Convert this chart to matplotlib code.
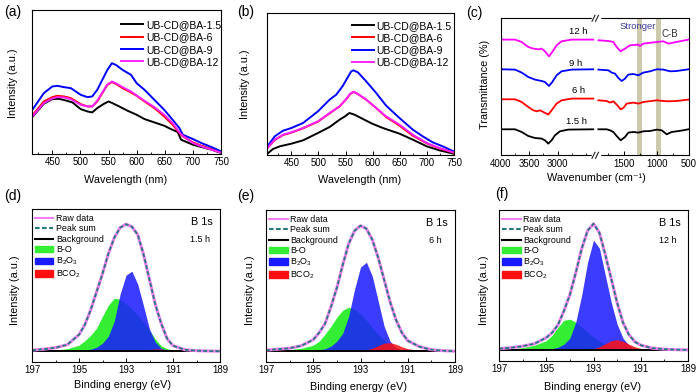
import numpy as np
import matplotlib
matplotlib.use('Agg')
import matplotlib.pyplot as plt
from matplotlib.ticker import MultipleLocator
from matplotlib.lines import Line2D
from matplotlib.patches import Patch, Rectangle

plt.rcParams['font.family'] = ['Liberation Sans', 'DejaVu Sans']
plt.rcParams['mathtext.fontset'] = 'custom'
plt.rcParams['mathtext.rm'] = 'Liberation Sans'
plt.rcParams['mathtext.it'] = 'Liberation Sans:italic'

W, H = 700, 392

# ---------------- (a) PL spectra ----------------
pl_labels = ['UB-CD@BA-1.5', 'UB-CD@BA-6', 'UB-CD@BA-9', 'UB-CD@BA-12']
pl_colors = ['#000000', '#ff0000', '#0000ff', '#ff22ff']

a_15_x = [415.5, 435, 450, 462, 474, 486, 500.6, 512.5, 521, 530, 542, 550, 557, 569, 584, 600, 614,
          631.5, 649, 661, 673, 679, 700, 715, 733, 750]
a_15_y = [113, 151, 165, 166, 161, 155, 135, 128, 125, 138, 151, 158, 153, 143, 130, 118, 105,
          95, 85, 75, 66, 43, 28, 21, 13, 3]
a_6_x = [415.5, 435, 450, 459, 471, 483, 500.6, 512.5, 521, 530, 539, 548, 556, 563, 575, 590, 600,
         614, 631.5, 649, 664, 676, 682, 700, 715, 733, 750]
a_6_y = [118, 158, 171, 175, 173, 168, 150, 143, 143, 158, 183, 208, 216, 211, 198, 185, 175,
         158, 138, 113, 88, 63, 53, 35, 25, 15, 5]
a_12_y = [115, 153, 167, 171, 170, 165, 148, 143, 143, 160, 185, 209, 218, 213, 201, 188, 176,
          160, 141, 118, 93, 65, 55, 33, 23, 13, 4]
a_9_y = [135, 183, 203, 205, 201, 198, 178, 171, 173, 193, 223, 253, 273, 268, 253, 238, 213,
         193, 163, 133, 103, 78, 58, 45, 33, 21, 8]

# ---------------- (b) PL spectra ----------------
b_15_x = [405.8, 416, 428.5, 450, 471.5, 499, 520.5, 539, 549, 557, 566.5, 582, 599, 618.7, 649.4,
          674, 699.7, 723, 748.8]
b_15_y = [4, 18, 26, 34, 44, 66, 84, 106, 116, 126, 121, 108, 94, 81, 64, 46, 26, 14, 4]
b_mid_x = [405.8, 419.3, 434.7, 450, 471.5, 499, 520.5, 539, 551, 558.6, 564.7, 572.7, 588, 606.4,
           624.8, 649.4, 674, 699.7, 723, 748.8]
b_6_y = [21, 45, 60, 67, 80, 100, 125, 146, 167, 183, 189, 183, 166, 141, 114, 88, 58, 35, 20, 7]
b_12_y = [21, 46, 61, 68, 81, 101, 126, 146, 168, 184, 190, 183, 166, 141, 116, 91, 61, 36, 21, 8]
b_9_x = [405.8, 419.3, 434.7, 450, 471.5, 499, 520.5, 532.8, 545.1, 554.3, 560.4, 564.7, 572.7, 588,
         606.4, 624.8, 649.4, 674, 692.3, 710.7, 729.1, 748.8]
b_9_y = [26, 56, 73, 81, 96, 131, 166, 181, 208, 234, 251, 254, 248, 221, 186, 148, 111, 76, 56,
         38, 26, 11]

# ---------------- (c) FTIR, broken axis ----------------
ir_tags = ['1.5 h', '6 h', '9 h', '12 h']
ir_colors = ['#000000', '#ff0000', '#0000ff', '#ff00ff']
ir_hi_15_x = [3988, 3753, 3635, 3518, 3400, 3283, 3224, 3165, 3106, 3047, 2959, 2812, 2371]
ir_hi_15_y = [26.0, 26.0, 23.3, 19.3, 17.3, 16.7, 15.0, 11.7, 15.0, 20.0, 24.0, 25.7, 26.0]
ir_hi_6_x = [3988, 3753, 3635, 3518, 3430, 3371, 3312, 3253, 3165, 3106, 3018, 2930, 2753, 2371]
ir_hi_6_y = [56.0, 56.0, 53.3, 48.3, 45.0, 44.0, 45.0, 43.3, 40.7, 45.0, 51.7, 55.0, 56.7, 56.7]
ir_hi_9_x = [3988, 3753, 3635, 3518, 3400, 3283, 3224, 3153, 3094, 3018, 2930, 2753, 2371]
ir_hi_9_y = [86.0, 85.7, 82.7, 78.3, 75.7, 74.3, 73.3, 69.3, 73.3, 80.0, 84.0, 85.7, 86.0]
ir_hi_12_x = [3988, 3753, 3635, 3518, 3430, 3341, 3283, 3224, 3153, 3094, 3018, 2930, 2753, 2371]
ir_hi_12_y = [115.7, 115.7, 113.3, 108.3, 106.7, 106.0, 106.7, 104.0, 99.0, 103.3, 110.0, 114.0,
              115.7, 115.7]

ir_lo_15_x = [1898, 1770, 1718, 1667, 1616, 1554, 1487, 1436, 1358, 1281, 1204, 1101, 998, 921, 844,
              767, 690, 587, 510]
ir_lo_15_y = [26.0, 26.0, 25.0, 23.3, 19.3, 15.0, 18.3, 22.7, 23.3, 22.7, 24.0, 24.3, 25.7, 25.0,
              21.0, 23.3, 24.0, 25.0, 26.0]
ir_lo_6_x = [1898, 1770, 1718, 1667, 1616, 1554, 1513, 1461, 1358, 1281, 1204, 998, 896, 818, 690, 510]
ir_lo_6_y = [55.0, 54.3, 52.7, 54.0, 50.7, 46.0, 47.3, 51.7, 52.7, 51.7, 53.3, 55.0, 54.3, 54.0,
             54.3, 55.7]
ir_lo_9_x = [1898, 1744, 1693, 1641, 1590, 1538, 1487, 1436, 1358, 1281, 1204, 1101, 998, 896, 793,
             690, 510]
ir_lo_9_y = [85.7, 85.0, 82.7, 81.7, 77.3, 74.3, 76.7, 80.7, 81.3, 80.0, 82.7, 84.0, 86.0, 85.7,
             84.0, 84.3, 86.0]
ir_lo_12_x = [1898, 1744, 1667, 1616, 1554, 1487, 1410, 1281, 1256, 1204, 998, 896, 818, 741, 510]
ir_lo_12_y = [115.0, 114.3, 113.3, 108.3, 104.0, 106.7, 110.0, 110.7, 109.3, 111.7, 113.3, 114.0,
              111.7, 112.7, 115.7]
ir_tag_x = [2665, 2636, 2682, 2642]
ir_tag_y = [34, 65, 91.7, 124]
ir_bands = [(1230, 1307), (937, 1014)]

# ---------------- (d)-(f) XPS B 1s ----------------
be_grid = [197, 196.5, 196, 195.5, 195, 194.75, 194.5, 194.25, 194, 193.75, 193.5, 193.25, 193,
           192.75, 192.5, 192.25, 192, 191.75, 191.5, 191.25, 191, 190.5, 190, 189.5, 189]
xps_bg = 10.5
xps_tags = ['1.5 h', '6 h', '12 h']

d_env = [11.5, 12.5, 14, 17, 27, 37, 52, 70, 88, 108, 124, 134, 137.5, 135, 127, 107, 82, 57, 38,
         23, 16, 12, 11, 10.7, 10.5]
d_bo = [0.3, 0.6, 1.2, 2.5, 6, 10.5, 16, 23, 35, 46, 53, 52, 47.5, 42, 36, 29, 21, 12, 5.5, 2.5,
        1, 0.3, 0.1, 0, 0]
d_b2o3 = [0, 0, 0, 0.2, 0.5, 1, 2, 4, 8, 15, 30, 57, 76, 80, 67, 45, 22, 9, 3, 1, 0.3, 0, 0, 0, 0]
d_bco2 = [0, 0, 0, 0, 0, 0, 0, 0, 0, 0, 0, 0, 0, 0, 0.3, 0.8, 1.6, 2.3, 2.2, 1.5, 0.8, 0.2, 0, 0, 0]

e_env = [11.5, 12.5, 13.5, 16, 22, 29, 38, 55, 74, 97, 118, 131, 136, 133, 122, 104, 82, 60, 42,
         29, 21, 15, 12, 11, 10.5]
e_bo = [0.3, 0.8, 1.5, 3, 6, 10, 17, 25, 34, 41, 44, 42, 37, 31, 24, 17, 11, 6, 3, 1.2, 0.5, 0.1,
        0, 0, 0]
e_b2o3 = [0, 0, 0, 0.2, 0.6, 1.2, 2.5, 5, 10, 18, 35, 62, 84, 89, 75, 50, 25, 10, 3.5, 1, 0.3, 0,
          0, 0, 0]
e_bco2 = [0, 0, 0, 0, 0, 0, 0, 0, 0, 0, 0, 0, 0.5, 1.5, 3, 5.5, 8, 8.5, 7, 4.5, 2.5, 0.7, 0.2, 0, 0]

f_env = [12, 13, 14.5, 17, 23, 28, 36, 50, 66, 88, 112, 130, 137, 128, 106, 82, 58, 38, 26, 19,
         15.5, 12.5, 11.5, 11, 10.8]
f_bo = [0.5, 1.3, 2.5, 5, 9.5, 15, 23, 30, 31, 28, 23, 18, 13, 9, 6, 3.5, 2, 1, 0.5, 0.2, 0, 0, 0,
        0, 0]
f_b2o3 = [0, 0, 0, 0.3, 0.8, 1.5, 3, 6, 12, 28, 55, 88, 110, 102, 75, 48, 26, 12, 5, 1.8, 0.6, 0,
          0, 0, 0]
f_bco2 = [0, 0, 0, 0, 0, 0, 0, 0, 0, 0, 0, 0.5, 1.5, 3.5, 6.5, 9.5, 10.5, 9, 6, 3.5, 1.8, 0.5, 0.1,
          0, 0]

c_raw = '#f47ff4'
c_sum = '#237a7a'
c_green = '#33ee33'
c_blue = '#1a1aff'
c_red = '#ff1010'


def add_ax(fig, x0, y0, x1, y1):
    # axes rectangle given in pixel coords of the 700x392 canvas
    return fig.add_axes([x0 / W, 1 - y1 / H, (x1 - x0) / W, (y1 - y0) / H])


def ftext(fig, x, y, s, **kw):
    fig.text(x / W, 1 - y / H, s, ha='center', va='center', **kw)


def style(ax):
    for sp in ax.spines.values():
        sp.set_linewidth(0.8)
    ax.tick_params(axis='x', which='both', direction='in', labelsize=6.9, pad=2.5, top=False)
    ax.tick_params(axis='x', which='major', length=3, width=0.7)
    ax.tick_params(axis='x', which='minor', length=1.8, width=0.6)
    ax.set_yticks([])


fig = plt.figure(figsize=(7, 3.92), dpi=100)

# (a)
ax = add_ax(fig, 32, 10, 221, 154)
ax.plot(a_15_x, a_15_y, color=pl_colors[0], lw=1.4, label=pl_labels[0])
ax.plot(a_6_x, a_6_y, color=pl_colors[1], lw=1.4, label=pl_labels[1])
ax.plot(a_6_x, a_9_y, color=pl_colors[2], lw=1.4, label=pl_labels[2])
ax.plot(a_6_x, a_12_y, color=pl_colors[3], lw=1.4, label=pl_labels[3])
ax.set_xlim(414, 750)
ax.set_ylim(0, 433)
ax.xaxis.set_major_locator(MultipleLocator(50))
ax.xaxis.set_minor_locator(MultipleLocator(25))
style(ax)
ax.legend(loc='upper right', bbox_to_anchor=(1.0, 0.93), frameon=False, fontsize=7.5,
          handlelength=2.1, handletextpad=0.25, labelspacing=0.22, borderpad=0, borderaxespad=0)

# (b)
ax = add_ax(fig, 267, 13, 454, 155)
ax.plot(b_15_x, b_15_y, color=pl_colors[0], lw=1.4, label=pl_labels[0])
ax.plot(b_mid_x, b_6_y, color=pl_colors[1], lw=1.4, label=pl_labels[1])
ax.plot(b_9_x, b_9_y, color=pl_colors[2], lw=1.4, label=pl_labels[2])
ax.plot(b_mid_x, b_12_y, color=pl_colors[3], lw=1.4, label=pl_labels[3])
ax.set_xlim(405, 750)
ax.set_ylim(0, 426)
ax.xaxis.set_major_locator(MultipleLocator(50))
ax.xaxis.set_minor_locator(MultipleLocator(25))
style(ax)
ax.legend(loc='upper right', bbox_to_anchor=(0.988, 0.946), frameon=False, fontsize=7.5,
          handlelength=2.1, handletextpad=0.25, labelspacing=0.22, borderpad=0, borderaxespad=0)

# (c) broken wavenumber axis
axL = add_ax(fig, 501, 18.3, 595, 155.3)
axR = add_ax(fig, 595, 18.3, 689, 155.3)
hi = [(ir_hi_15_x, ir_hi_15_y), (ir_hi_6_x, ir_hi_6_y), (ir_hi_9_x, ir_hi_9_y), (ir_hi_12_x, ir_hi_12_y)]
lo = [(ir_lo_15_x, ir_lo_15_y), (ir_lo_6_x, ir_lo_6_y), (ir_lo_9_x, ir_lo_9_y), (ir_lo_12_x, ir_lo_12_y)]
for i in range(4):
    axL.plot(hi[i][0], hi[i][1], color=ir_colors[i], lw=1.3)
    axR.plot(lo[i][0], lo[i][1], color=ir_colors[i], lw=1.3)
    axL.text(ir_tag_x[i], ir_tag_y[i], ir_tags[i], ha='center', va='center', fontsize=6.8)
for b0, b1 in ir_bands:
    axR.axvspan(b0, b1, color='#cdc9ad', lw=0, zorder=0)
axR.text(1297, 128.5, 'Stronger', color='#3c3c9c', ha='center', va='center', fontsize=6.8)
axR.text(793, 121, 'C-B', color='#333333', ha='center', va='center', fontsize=7)
axL.set_xlim(4000, 2340)
axR.set_xlim(1950, 500)
for a in (axL, axR):
    a.set_ylim(0, 137)
    style(a)
    a.xaxis.set_minor_locator(MultipleLocator(250))
axL.set_xticks([4000, 3500, 3000])
axR.set_xticks([1500, 1000, 500])
axL.spines['right'].set_visible(False)
axR.spines['left'].set_visible(False)
for yb in (18.3, 155.3):
    fig.patches.append(Rectangle((591.5 / W, 1 - (yb + 2.5) / H), 8 / W, 5 / H,
                                 transform=fig.transFigure, color='white', zorder=5))
    for x0 in (592, 595.5):
        fig.lines.append(Line2D([x0 / W, (x0 + 3) / W], [1 - (yb + 3) / H, 1 - (yb - 3) / H],
                                transform=fig.transFigure, color='#222222', lw=0.8, zorder=6))

# (d)-(f) XPS
xps_sets = [(d_env, d_bo, d_b2o3, d_bco2), (e_env, e_bo, e_b2o3, e_bco2), (f_env, f_bo, f_b2o3, f_bco2)]
xps_boxes = [(32, 209, 220, 361.7), (266, 210, 455, 361.7), (499, 210, 688, 360.7)]
be = np.array(be_grid)
for k in range(3):
    env, bo, b2o3, bco2 = xps_sets[k]
    x0, y0, x1, y1 = xps_boxes[k]
    ax = add_ax(fig, x0, y0, x1, y1)
    ax.fill_between(be, xps_bg, xps_bg + np.array(bo), color=c_green, lw=0)
    ax.fill_between(be, xps_bg, xps_bg + np.array(b2o3), color=c_blue, alpha=0.85, lw=0)
    ax.fill_between(be, xps_bg, xps_bg + np.array(bco2), color=c_red, alpha=0.85, lw=0)
    ax.plot([be[0], be[-1]], [xps_bg, xps_bg], color='k', lw=1.4)
    ax.plot(be, env, color=c_raw, lw=2.2)
    ax.plot(be, env, color=c_sum, lw=1.3, ls=(0, (2.2, 1.2)))
    ax.set_xlim(197, 189)
    ax.set_ylim(0, y1 - y0)
    ax.set_xticks([197, 195, 193, 191, 189])
    ax.xaxis.set_minor_locator(MultipleLocator(1))
    style(ax)
    handles = [Line2D([], [], color=c_raw, lw=1.5),
               Line2D([], [], color=c_sum, lw=1.5, ls=(0, (2.2, 1.2))),
               Line2D([], [], color='k', lw=1.5),
               Patch(color=c_green), Patch(color=c_blue), Patch(color=c_red)]
    labels = ['Raw data', 'Peak sum', 'Background', 'B-O', 'B$_2$O$_3$', 'BCO$_2$']
    ax.legend(handles, labels, loc='upper left', bbox_to_anchor=(0.015, 0.967), frameon=False,
              fontsize=6.4, handlelength=2.1, handletextpad=0.3, labelspacing=0.16,
              borderpad=0, borderaxespad=0)
    ax.text(0.905, 0.914, 'B 1s', transform=ax.transAxes, ha='center', va='center', fontsize=7.8)
    ax.text(0.895, 0.80, xps_tags[k], transform=ax.transAxes, ha='center', va='center', fontsize=6.5)

# axis titles and panel letters
ylab = 'Intensity (a.u.)'
for x, y, s in [(13.3, 83, ylab), (245, 84, ylab), (485, 84, 'Transmittance (%)'),
                (15, 290, ylab), (250, 290, ylab), (484, 290, ylab)]:
    ftext(fig, x, y, s, rotation=90, fontsize=7.8)
for x, y, s in [(126, 180, 'Wavelength (nm)'), (360, 180, 'Wavelength (nm)'),
                (596.7, 178.3, 'Wavenumber (cm\u207b\u00b9)'), (122.5, 385, 'Binding energy (eV)'),
                (358, 386.7, 'Binding energy (eV)'), (592.5, 386.7, 'Binding energy (eV)')]:
    ftext(fig, x, y, s, fontsize=7.8)
for x, y, s in [(13, 12, '(a)'), (246, 12, '(b)'), (474, 13, '(c)'),
                (13, 196, '(d)'), (246, 196, '(e)'), (502, 194, '(f)')]:
    ftext(fig, x, y, s, fontsize=10)

fig.savefig('out.png', dpi=100)
